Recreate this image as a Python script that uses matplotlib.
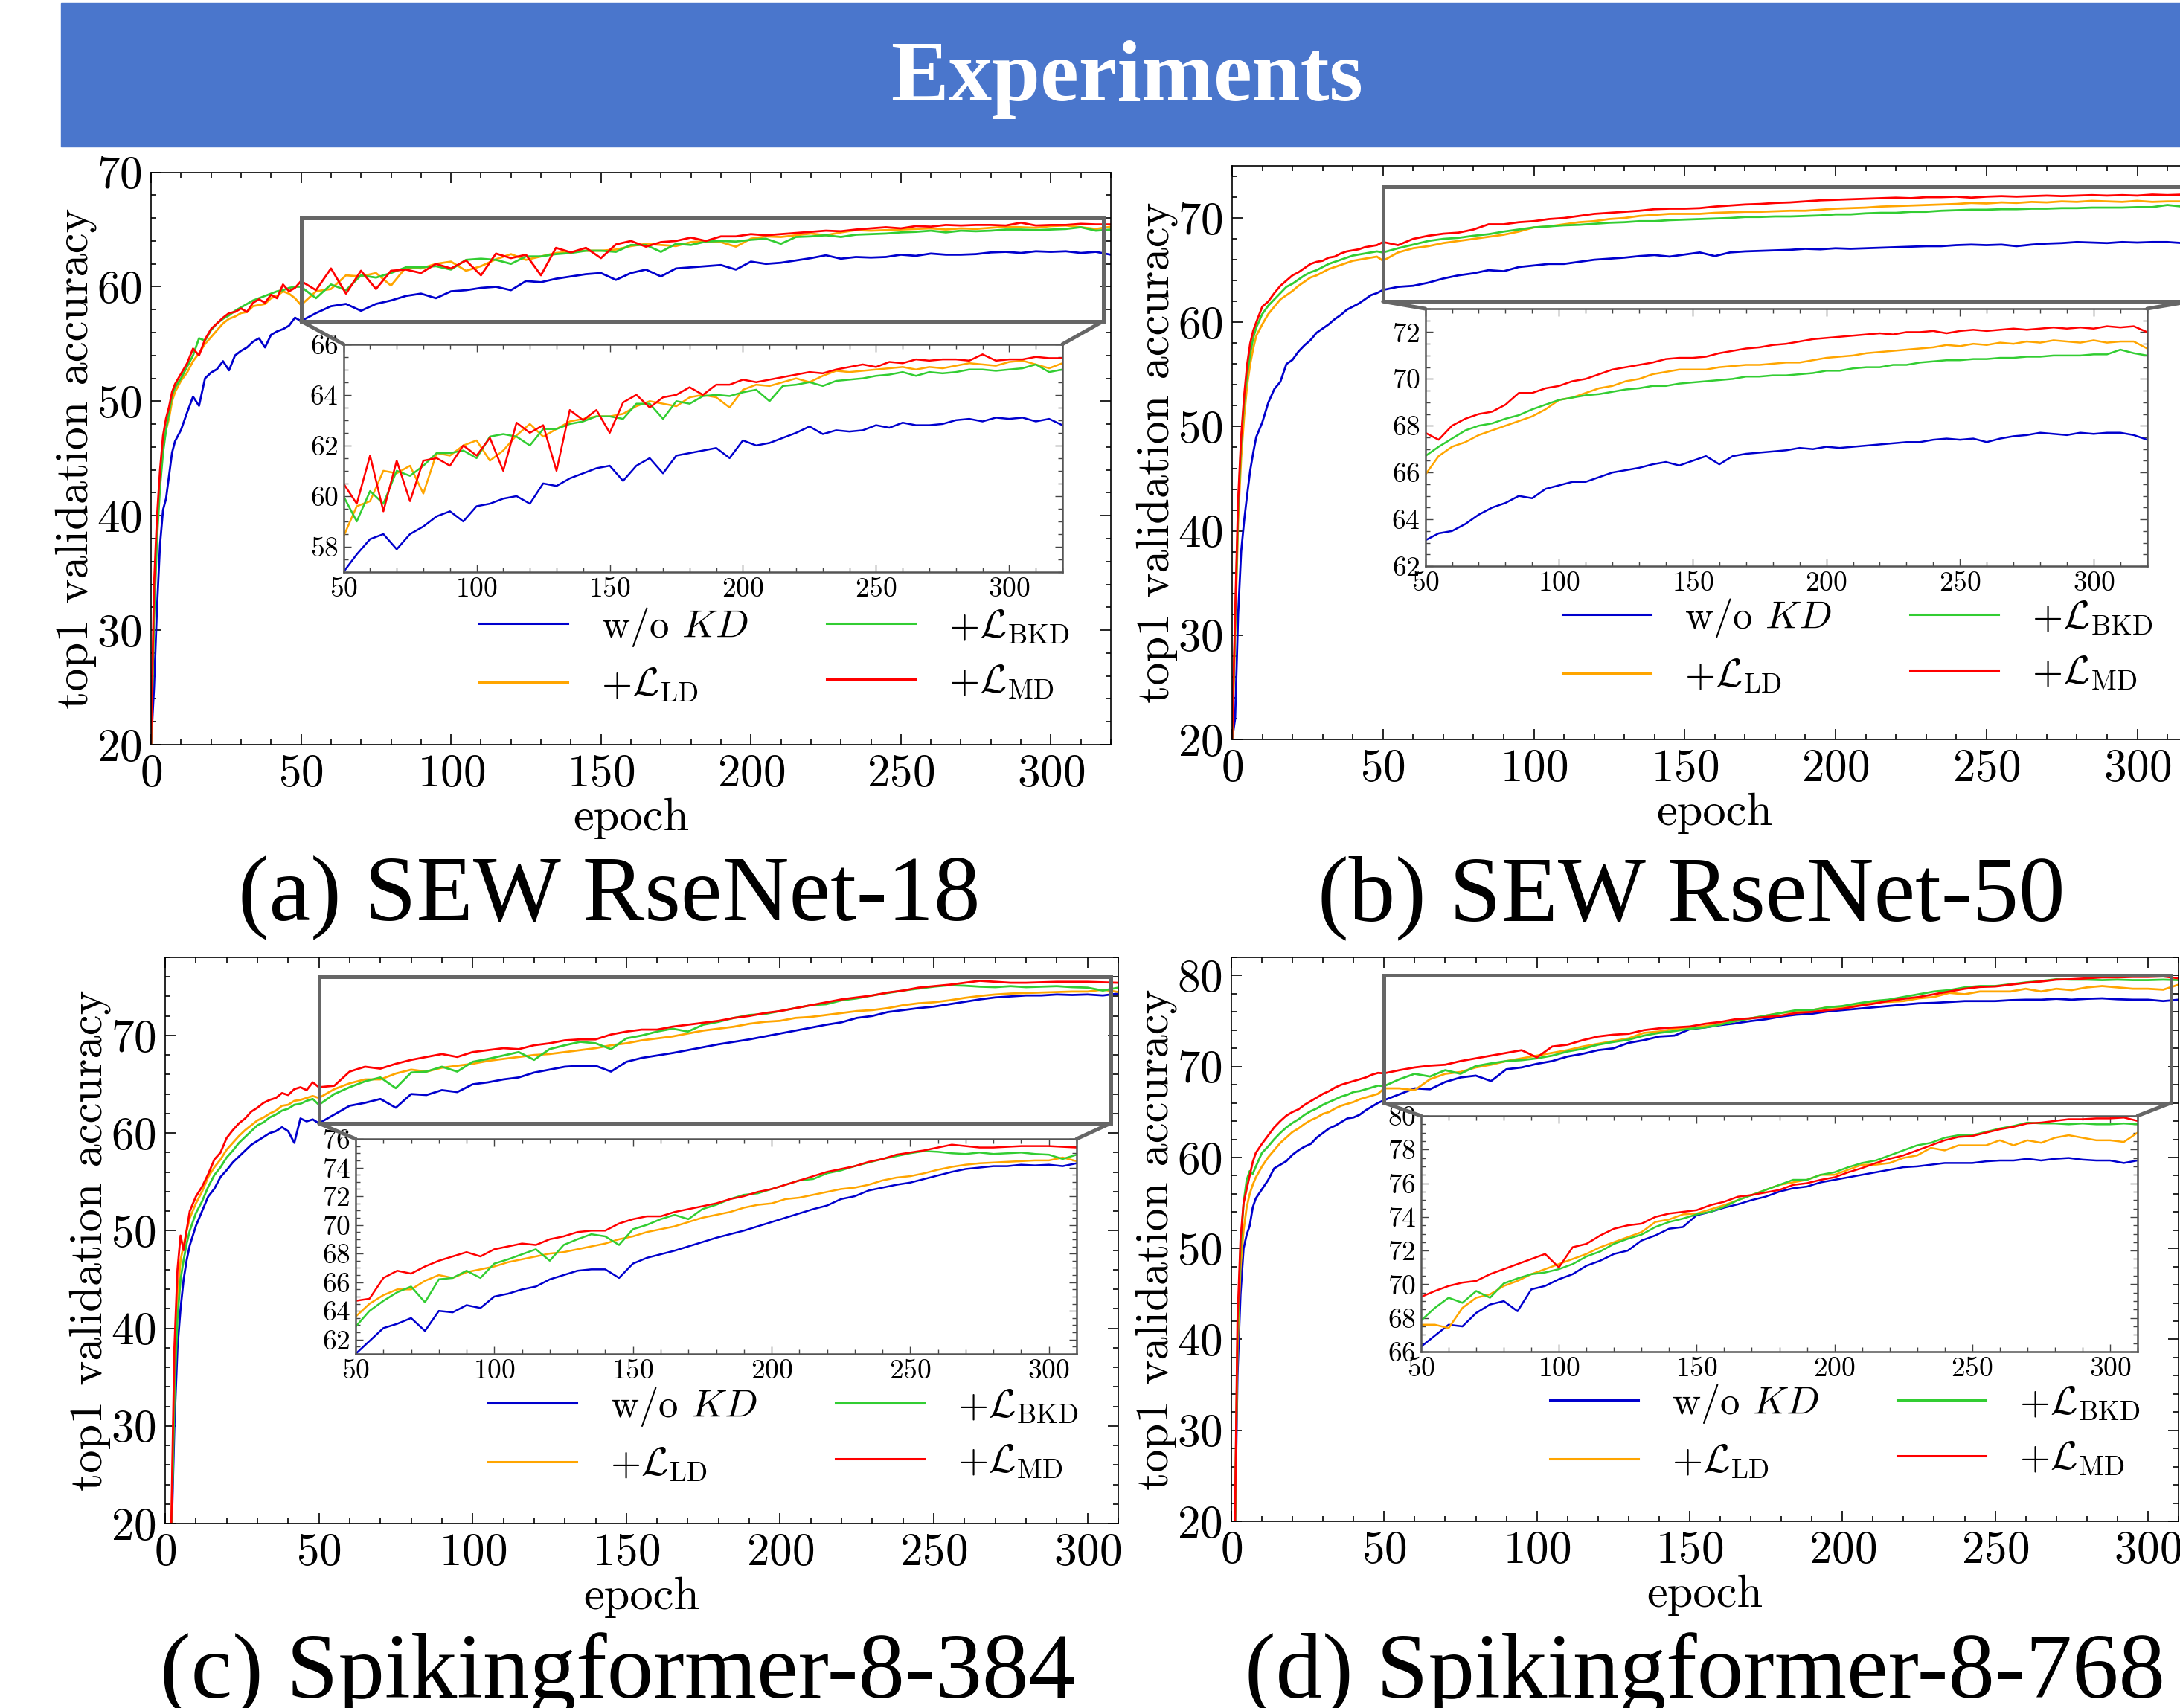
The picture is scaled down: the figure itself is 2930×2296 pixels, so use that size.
import matplotlib
matplotlib.use("Agg")
import matplotlib.pyplot as plt
from matplotlib.patches import Rectangle, ConnectionPatch
from matplotlib.lines import Line2D
from matplotlib.ticker import MultipleLocator, AutoMinorLocator

plt.rcParams['font.family'] = 'serif'
plt.rcParams['font.serif'] = ['cmr10']
plt.rcParams['mathtext.fontset'] = 'cm'
plt.rcParams['axes.formatter.use_mathtext'] = True
plt.rcParams['axes.unicode_minus'] = False

W, H = 2930, 2296

# ---------------- data ----------------
# epochs for the two SEW ResNet runs (0..320) and the two Spikingformer runs (0..310)
early_ab = [0, 1, 2, 3, 4, 5, 6, 7, 8] + list(range(10, 50, 2))
epochs_ab = early_ab + list(range(50, 321, 5))
early_cd = [1, 2, 3, 4, 5, 6, 7, 8] + list(range(10, 50, 2))
epochs_cd = early_cd + list(range(50, 311, 5))

labels = [r'w/o $KD$', r'$+\mathcal{L}_{\mathrm{LD}}$',
          r'$+\mathcal{L}_{\mathrm{BKD}}$', r'$+\mathcal{L}_{\mathrm{MD}}$']
colors = ['#0000CD', '#FFA500', '#32CD32', '#FF0000']

# (a) SEW ResNet-18
a_wo = [20, 25, 32, 37.5, 40.5, 41.5, 43.5, 45.5, 46.5,
        47.5, 49, 50.4, 49.6, 52, 52.5, 52.8, 53.5, 52.7, 54, 54.4, 54.7, 55.2, 55.5, 54.7, 55.8, 56.1, 56.3, 56.6, 57.3,
        57.0, 57.7, 58.3, 58.5, 57.9, 58.5, 58.8, 59.2, 59.4, 59.0,
        59.6, 59.7, 59.9, 60.0, 59.7, 60.5, 60.4, 60.7, 60.9, 61.1,
        61.2, 60.6, 61.2, 61.5, 60.9, 61.6, 61.7, 61.8, 61.9, 61.5,
        62.2, 62.0, 62.1, 62.3, 62.5, 62.75, 62.45, 62.6, 62.55, 62.6,
        62.8, 62.7, 62.9, 62.8, 62.8, 62.85, 63.0, 63.05, 62.95, 63.1,
        63.05, 63.1, 62.95, 63.05, 62.8]
a_ld = [20, 32, 39, 43, 46, 47.5, 48.5, 50, 50.8,
        51.8, 52.5, 53.5, 54.2, 55, 55.6, 56.2, 56.8, 57.2, 57.4, 57.7, 57.8, 58.3, 58.4, 58.5, 59.0, 59.2, 59.6, 59.4, 59.0,
        58.4, 59.6, 59.8, 61.0, 60.9, 61.2, 60.1, 61.7, 61.6, 62.0,
        62.2, 61.4, 61.8, 62.4, 62.85, 62.35, 62.65, 62.95, 63.05, 63.15,
        63.15, 63.25, 63.55, 63.75, 63.65, 63.55, 63.9, 64.0, 63.9, 63.5,
        64.2, 64.4, 64.35, 64.5, 64.65, 64.5, 64.75, 64.95, 64.9, 64.95,
        65.0, 65.05, 65.1, 65.0, 65.1, 65.05, 65.15, 65.25, 65.2, 65.15,
        65.3, 65.35, 65.2, 65.05, 65.25]
a_bkd = [20, 31, 38, 42.5, 45.5, 47.5, 49, 50.5, 51.2,
         52, 53, 54, 55.5, 55.3, 56.2, 56.8, 57.2, 57.5, 57.9, 58.2, 58.5, 58.8, 59, 59.2, 59.4, 59.6, 59.7, 59.9, 60.0,
         60.0, 59.0, 60.2, 59.7, 61.0, 60.8, 61.2, 61.7, 61.7, 61.8,
         61.5, 62.35, 62.45, 62.35, 62.0, 62.65, 62.65, 62.85, 62.95, 63.15,
         63.15, 63.05, 63.65, 63.65, 63.05, 63.75, 63.65, 63.95, 64.0, 63.95,
         64.1, 64.2, 63.75, 64.35, 64.4, 64.5, 64.35, 64.55, 64.6, 64.65,
         64.75, 64.8, 64.9, 64.75, 64.9, 64.85, 64.9, 65.0, 65.0, 64.95,
         65.0, 65.05, 65.2, 64.9, 65.0]
a_md = [20, 34, 40, 44, 47, 48.5, 49.5, 50.8, 51.5,
        52.4, 53.3, 54.6, 54.0, 55.4, 56.3, 56.8, 57.3, 57.7, 57.8, 58.1, 57.8, 58.6, 58.9, 58.6, 59.3, 59.0, 60.2, 59.6, 59.9,
        60.5, 59.7, 61.6, 59.4, 61.4, 59.8, 61.4, 61.5, 61.2, 62.0,
        61.6, 62.3, 61.0, 62.9, 62.5, 62.8, 61.0, 63.4, 63.0, 63.4,
        62.5, 63.7, 64.0, 63.5, 63.9, 64.0, 64.3, 64.0, 64.4, 64.4,
        64.6, 64.5, 64.6, 64.7, 64.8, 64.9, 64.85, 65.0, 65.1, 65.2,
        65.1, 65.3, 65.25, 65.4, 65.35, 65.4, 65.4, 65.35, 65.6, 65.35,
        65.4, 65.4, 65.5, 65.45, 65.45]

# (b) SEW ResNet-50
b_wo = [20, 22, 32, 38, 41, 43.5, 45.8, 47.5, 49,
        50.4, 52.3, 53.6, 54.3, 56, 56.4, 57.2, 57.8, 58.3, 59, 59.4, 59.8, 60.3, 60.7, 61.2, 61.5, 61.8, 62.2, 62.6, 62.8,
        63.1, 63.4, 63.5, 63.8, 64.2, 64.5, 64.7, 65.0, 64.9, 65.3,
        65.45, 65.6, 65.6, 65.8, 66.0, 66.1, 66.2, 66.35, 66.45, 66.3,
        66.5, 66.7, 66.35, 66.7, 66.8, 66.85, 66.9, 66.95, 67.05, 67.0,
        67.1, 67.05, 67.1, 67.15, 67.2, 67.25, 67.3, 67.3, 67.4, 67.45,
        67.4, 67.45, 67.3, 67.45, 67.55, 67.6, 67.7, 67.65, 67.6, 67.7,
        67.65, 67.7, 67.7, 67.6, 67.4]
b_ld = [20, 30, 41, 47, 51, 54, 56, 57.5, 58.7,
        59.8, 60.8, 61.5, 62.2, 62.6, 63.0, 63.5, 63.9, 64.3, 64.5, 64.8, 65.1, 65.3, 65.5, 65.7, 65.9, 66.0, 66.1, 66.2, 66.3,
        65.9, 66.7, 67.1, 67.3, 67.6, 67.8, 68.0, 68.2, 68.4, 68.7,
        69.1, 69.2, 69.4, 69.6, 69.7, 69.9, 70.0, 70.2, 70.3, 70.4,
        70.4, 70.4, 70.5, 70.55, 70.6, 70.6, 70.65, 70.7, 70.7, 70.8,
        70.9, 70.95, 71.0, 71.1, 71.15, 71.2, 71.25, 71.3, 71.35, 71.45,
        71.4, 71.5, 71.45, 71.55, 71.5, 71.6, 71.55, 71.65, 71.6, 71.55,
        71.65, 71.55, 71.6, 71.6, 71.3]
b_bkd = [20, 31, 42, 48.5, 52.5, 55, 57, 58.5, 59.5,
         60.8, 61.6, 62.2, 62.8, 63.4, 63.7, 64.1, 64.5, 64.8, 65.0, 65.3, 65.6, 65.8, 66.0, 66.2, 66.4, 66.5, 66.6, 66.7, 66.8,
         66.7, 67.1, 67.45, 67.8, 68.0, 68.1, 68.3, 68.45, 68.7, 68.9,
         69.1, 69.2, 69.3, 69.35, 69.45, 69.55, 69.6, 69.7, 69.7, 69.8,
         69.85, 69.9, 69.95, 70.0, 70.1, 70.1, 70.15, 70.15, 70.2, 70.25,
         70.35, 70.35, 70.45, 70.5, 70.5, 70.6, 70.6, 70.7, 70.75, 70.8,
         70.8, 70.85, 70.85, 70.9, 70.9, 70.95, 70.95, 71.0, 71.0, 71.0,
         71.05, 71.05, 71.25, 71.1, 71.0]
b_md = [20, 32, 43, 49, 53, 56, 58, 59.2, 60,
        61.5, 62, 62.8, 63.5, 64, 64.5, 64.8, 65.2, 65.6, 65.8, 65.9, 66.2, 66.3, 66.6, 66.8, 66.9, 67.0, 67.2, 67.3, 67.4,
        67.7, 67.4, 68.0, 68.3, 68.5, 68.6, 68.9, 69.4, 69.4, 69.6,
        69.7, 69.9, 70.0, 70.2, 70.4, 70.5, 70.6, 70.7, 70.85, 70.9,
        70.9, 70.95, 71.1, 71.2, 71.3, 71.35, 71.45, 71.5, 71.6, 71.7,
        71.75, 71.8, 71.85, 71.9, 71.95, 71.9, 72.0, 72.0, 72.05, 71.95,
        72.05, 72.1, 72.05, 72.1, 72.15, 72.1, 72.15, 72.2, 72.15, 72.2,
        72.15, 72.25, 72.2, 72.25, 72.0]

# (c) Spikingformer-8-384
c_wo = [12, 18, 30, 38, 42, 45, 47, 48.5,
        50.5, 52, 53.5, 54.3, 55.5, 56.2, 57, 57.6, 58.2, 58.8, 59.2, 59.6, 60.0, 60.2, 60.6, 60.2, 59.0, 61.5, 61.2, 61.4,
        61.0, 61.9, 62.8, 63.1, 63.5, 62.6, 64.0, 63.9, 64.4, 64.2,
        65.0, 65.2, 65.5, 65.7, 66.2, 66.5, 66.8, 66.9, 66.9, 66.3,
        67.3, 67.7, 67.95, 68.2, 68.5, 68.8, 69.1, 69.35, 69.6, 69.9,
        70.2, 70.5, 70.8, 71.1, 71.35, 71.8, 72.0, 72.4, 72.6, 72.8,
        72.95, 73.2, 73.45, 73.7, 73.9, 74.0, 74.1, 74.1, 74.2, 74.15,
        74.2, 74.1, 74.3]
c_ld = [12, 19, 35, 43, 47, 48.5, 50, 51.3,
        52.8, 54, 55.5, 56.5, 57.3, 58.3, 59, 59.7, 60.3, 60.8, 61.3, 61.6, 62.0, 62.3, 62.8, 62.9, 63.3, 63.4, 63.6, 63.8,
        63.6, 64.5, 65.1, 65.5, 65.5, 66.1, 66.5, 66.3, 66.7, 66.9,
        67.1, 67.4, 67.6, 67.8, 68.0, 68.1, 68.3, 68.5, 68.7, 69.0,
        69.2, 69.5, 69.7, 69.9, 70.2, 70.5, 70.7, 70.9, 71.2, 71.4,
        71.5, 71.8, 71.9, 72.1, 72.3, 72.5, 72.6, 72.8, 73.1, 73.3,
        73.4, 73.6, 73.85, 74.05, 74.2, 74.3, 74.35, 74.4, 74.45, 74.5,
        74.5, 74.7, 74.45]
c_bkd = [12, 18, 33, 41, 45, 47, 48.7, 50,
         51.8, 53, 54.5, 55.7, 56.5, 57.5, 58.2, 59.0, 59.6, 60.2, 60.8, 61.1, 61.6, 61.9, 62.3, 62.5, 62.9, 63.0, 63.3, 63.5,
         62.9, 64.0, 64.7, 65.3, 65.7, 64.6, 66.2, 66.3, 66.8, 66.3,
         67.3, 67.6, 67.95, 68.3, 67.5, 68.6, 69.0, 69.35, 69.2, 68.6,
         69.7, 70.0, 70.4, 70.7, 70.4, 71.1, 71.4, 71.8, 72.1, 72.2,
         72.5, 72.8, 73.1, 73.2, 73.6, 73.8, 74.1, 74.35, 74.6, 74.8,
         75.0, 75.15, 75.1, 75.0, 74.95, 75.05, 74.95, 75.0, 75.05, 74.95,
         74.9, 74.6, 74.9]
c_md = [12, 20, 38, 46, 49.5, 48, 50.1, 52,
        53.5, 54.5, 55.8, 57.3, 58, 59.5, 60.3, 61, 61.5, 62.2, 62.6, 63.1, 63.4, 63.6, 64.1, 63.9, 64.5, 64.7, 64.4, 65.2,
        64.7, 64.85, 66.3, 66.8, 66.6, 67.1, 67.5, 67.8, 68.1, 67.8,
        68.3, 68.5, 68.7, 68.6, 69.0, 69.2, 69.5, 69.6, 69.6, 70.1,
        70.4, 70.6, 70.6, 70.9, 71.1, 71.3, 71.5, 71.8, 72.0, 72.3,
        72.5, 72.8, 73.1, 73.4, 73.7, 73.9, 74.1, 74.4, 74.6, 74.9,
        75.05, 75.2, 75.4, 75.6, 75.5, 75.4, 75.4, 75.45, 75.5, 75.5,
        75.5, 75.45, 75.4]

# (d) Spikingformer-8-768
d_wo = [15, 36, 45, 50, 51.5, 52.5, 54.5, 55.5,
        56.5, 57.5, 58.8, 59.2, 59.6, 60.3, 60.8, 61.2, 61.5, 62.2, 62.7, 63.2, 63.5, 63.9, 64.3, 64.4, 64.7, 65.2, 65.6, 66.0,
        66.3, 66.95, 67.6, 67.5, 68.3, 68.8, 69.0, 68.4, 69.7, 69.9,
        70.3, 70.6, 71.1, 71.4, 71.8, 72.0, 72.6, 72.9, 73.3, 73.4,
        74.1, 74.3, 74.55, 74.75, 75.0, 75.2, 75.5, 75.7, 75.8, 76.05,
        76.2, 76.35, 76.5, 76.65, 76.8, 76.95, 77.0, 77.1, 77.2, 77.2,
        77.2, 77.3, 77.35, 77.35, 77.45, 77.35, 77.45, 77.5, 77.4, 77.35,
        77.35, 77.2, 77.35]
d_ld = [15, 39, 48, 52, 54.5, 56, 57, 57.8,
        59, 60, 60.8, 61.6, 62.2, 62.8, 63.2, 63.7, 64.1, 64.4, 64.8, 65.0, 65.4, 65.7, 65.9, 66.1, 66.4, 66.6, 66.8, 67.0,
        67.6, 67.6, 67.4, 68.6, 69.2, 69.4, 69.9, 70.2, 70.6, 70.9,
        71.2, 71.5, 71.8, 72.2, 72.5, 72.8, 73.1, 73.7, 73.85, 74.15,
        74.2, 74.45, 74.7, 75.0, 75.3, 75.6, 75.9, 76.05, 76.2, 76.5,
        76.5, 76.8, 77.1, 77.1, 77.2, 77.5, 77.65, 78.1, 77.95, 78.25,
        78.25, 78.25, 78.55, 78.25, 78.55, 78.4, 78.7, 78.85, 78.7, 78.55,
        78.55, 78.45, 79.0]
d_bkd = [15, 40, 50, 55, 57.5, 58.5, 58.2, 59,
         60.5, 61.2, 62, 62.7, 63.3, 63.8, 64.2, 64.7, 65.1, 65.4, 65.8, 66.1, 66.4, 66.7, 66.9, 67.2, 67.3, 67.5, 67.7, 67.9,
         67.85, 68.6, 69.2, 68.9, 69.6, 69.2, 70.05, 70.35, 70.6, 70.7,
         70.9, 71.2, 71.65, 71.95, 72.4, 72.7, 72.95, 73.4, 73.7, 73.9,
         74.15, 74.3, 74.6, 75.0, 75.3, 75.6, 75.9, 76.2, 76.2, 76.5,
         76.65, 76.95, 77.2, 77.35, 77.65, 77.95, 78.25, 78.4, 78.7, 78.85,
         78.85, 79.05, 79.25, 79.4, 79.6, 79.55, 79.55, 79.5, 79.55, 79.5,
         79.5, 79.55, 79.5]
d_md = [15, 42, 51, 55, 56.5, 58, 59.5, 60.5,
        61.5, 62.4, 63.3, 64, 64.6, 65, 65.3, 65.8, 66.2, 66.6, 67.0, 67.3, 67.7, 68.0, 68.2, 68.4, 68.6, 68.8, 69.1, 69.3,
        69.25, 69.6, 69.9, 70.1, 70.2, 70.6, 70.9, 71.2, 71.5, 71.8,
        71.0, 72.2, 72.4, 72.9, 73.3, 73.5, 73.6, 74.0, 74.2, 74.3,
        74.4, 74.7, 74.9, 75.2, 75.3, 75.45, 75.6, 75.9, 76.0, 76.2,
        76.35, 76.65, 76.9, 77.2, 77.45, 77.65, 77.95, 78.25, 78.55, 78.75,
        78.8, 79.0, 79.2, 79.35, 79.55, 79.6, 79.7, 79.8, 79.8, 79.85,
        79.85, 79.9, 79.7]

# ---------------- layout ----------------
fig = plt.figure(figsize=(W / 100, H / 100), dpi=100)


def px_rect(l, t, r, b):
    # pixel box (top-left origin) -> figure fraction [x, y, w, h]
    return [l / W, 1 - b / H, (r - l) / W, (b - t) / H]


# title banner
fig.patches.append(Rectangle((82 / W, 1 - 197 / H), 1 - 82 / W, 193 / H,
                             transform=fig.transFigure, color='#4A76CC', zorder=0))
fig.text(1514 / W, 1 - 135 / H, 'Experiments', color='white', fontsize=84,
         fontweight='bold', family='Liberation Serif', ha='center', va='baseline')

gray = '#666666'


def draw_panel(box, inset_box, epochs, series, xmax, ylim, zoom_ylim,
               leg_center, caption, cap_xy):
    ax = fig.add_axes(px_rect(*box))
    for vals, c in zip(series, colors):
        ax.plot(epochs, vals, color=c, lw=2.0)
    ax.set_xlim(0, xmax)
    ax.set_ylim(*ylim)
    ax.xaxis.set_major_locator(MultipleLocator(50))
    ax.xaxis.set_minor_locator(MultipleLocator(10))
    ax.yaxis.set_major_locator(MultipleLocator(10))
    ax.yaxis.set_minor_locator(MultipleLocator(2))
    ax.tick_params(which='both', direction='in', top=True, right=True,
                   labelsize=44, pad=9, width=1.2)
    ax.tick_params(which='major', length=10)
    ax.tick_params(which='minor', length=5)
    for s in ax.spines.values():
        s.set_linewidth(1.2)
    ax.set_xlabel('epoch', fontsize=45, labelpad=3)
    ax.set_ylabel('top1 validation accuracy', fontsize=45, labelpad=0)

    # zoom box on the main axes
    x_end = xmax - 2.5
    ax.add_patch(Rectangle((50, zoom_ylim[0]), x_end - 50, zoom_ylim[1] - zoom_ylim[0],
                           fill=False, ec=gray, lw=3.6, zorder=6, clip_on=False))

    ins = fig.add_axes(px_rect(*inset_box))
    for vals, c in zip(series, colors):
        ins.plot(epochs, vals, color=c, lw=1.8)
    ins.set_xlim(50, xmax)
    ins.set_ylim(*zoom_ylim)
    ins.xaxis.set_major_locator(MultipleLocator(50))
    ins.xaxis.set_minor_locator(MultipleLocator(10))
    ins.yaxis.set_major_locator(MultipleLocator(2))
    ins.yaxis.set_minor_locator(AutoMinorLocator(4))
    ins.tick_params(which='both', direction='in', top=True, right=True,
                    labelsize=27, pad=5, width=1.0, color='#444444')
    ins.tick_params(which='major', length=7)
    ins.tick_params(which='minor', length=4)
    for s in ins.spines.values():
        s.set_linewidth(1.8)
        s.set_edgecolor('#555555')

    for xa, xi in [(50, 0), (x_end, 1)]:
        con = ConnectionPatch(xyA=(xa, zoom_ylim[0]), coordsA=ax.transData,
                              xyB=(xi, 1), coordsB=ins.transAxes,
                              color=gray, lw=3.6, zorder=7)
        fig.add_artist(con)

    handles = [Line2D([], [], color=c, lw=2.2) for c in colors]
    ax.legend(handles, labels, ncol=2, loc='center',
              bbox_to_anchor=(leg_center[0] / W, 1 - leg_center[1] / H),
              bbox_transform=fig.transFigure, frameon=False, fontsize=38,
              handlelength=2.25, handletextpad=0.85, columnspacing=2.0,
              labelspacing=0.45, borderpad=0)

    fig.text(cap_xy[0] / W, 1 - cap_xy[1] / H, caption, fontsize=90,
             family='Liberation Serif', ha='left', va='baseline')


draw_panel((203, 231.6, 1493, 1001), (461.6, 462.7, 1428, 769),
           epochs_ab, [a_wo, a_ld, a_bkd, a_md], 320, (20, 70), (57, 66),
           (1041, 880), '(a) SEW RseNet-18', (320, 1237))
draw_panel((1656, 223, 2953.6, 994), (1915.6, 415, 2885.8, 761),
           epochs_ab, [b_wo, b_ld, b_bkd, b_md], 320, (20, 75), (62, 73),
           (2497, 868), '(b) SEW RseNet-50', (1771, 1237))
draw_panel((222, 1287, 1503, 2048), (478, 1531, 1447, 1820),
           epochs_cd, [c_wo, c_ld, c_bkd, c_md], 310, (20, 78), (61, 76),
           (1053, 1928), '(c) Spikingformer-8-384', (215, 2282))
draw_panel((1655, 1287, 2928, 2045), (1910, 1500, 2873, 1817),
           epochs_cd, [d_wo, d_ld, d_bkd, d_md], 310, (20, 82), (66, 80),
           (2480, 1924), '(d) Spikingformer-8-768', (1673, 2282))

fig.savefig('out.png', dpi=100)
